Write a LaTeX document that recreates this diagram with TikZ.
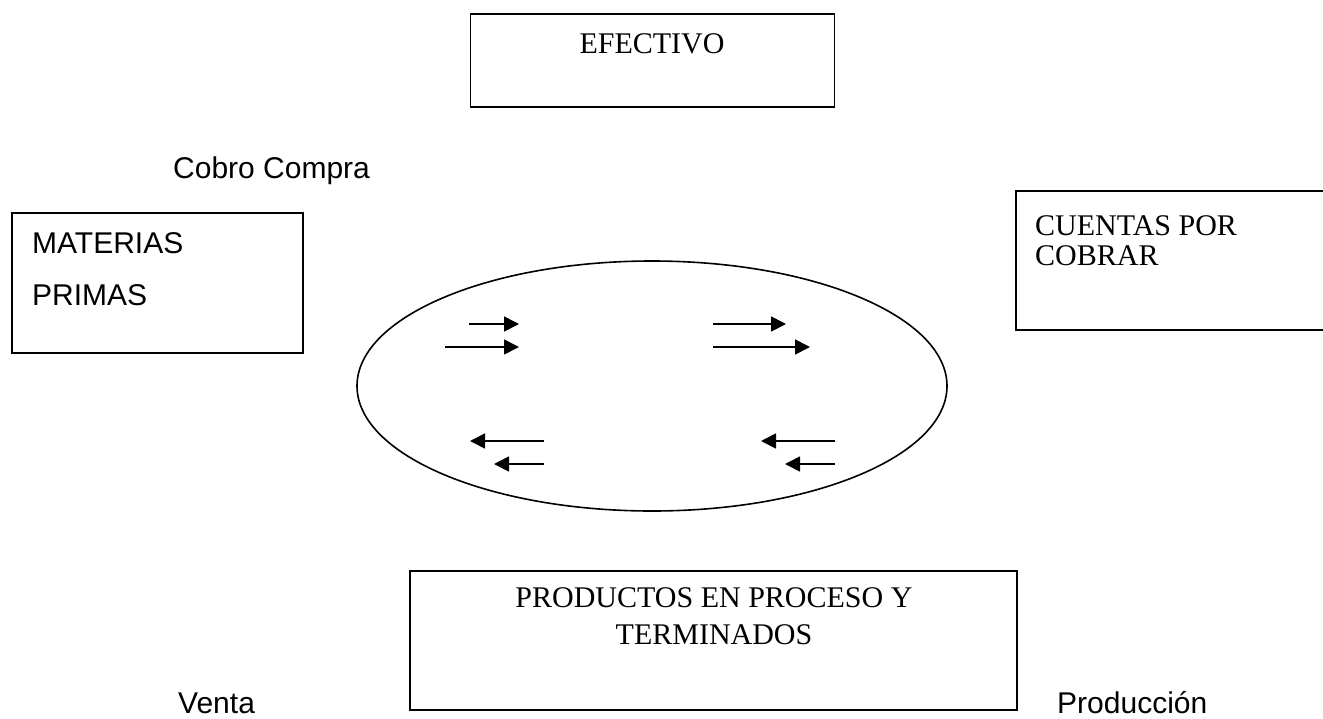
\documentclass[tikz,border=0pt]{standalone}
\usepackage{fontspec}
\setmainfont{Liberation Serif}
\newfontfamily\arialf{Liberation Sans}
\usetikzlibrary{arrows.meta,shapes.geometric}
\tikzset{
  boxshape/.style={draw, line width=1.6pt, rectangle, inner sep=0pt},
  serift/.style={font=\fontsize{30}{34}\selectfont, inner sep=0pt},
  sanst/.style={font=\arialf\fontsize{30}{34}\selectfont, inner sep=0pt},
  flow/.style={line width=1.7pt, -{Triangle[length=15pt,width=15pt]}},
}
\begin{document}
\begin{tikzpicture}[x=1pt,y=-1pt]
\useasboundingbox (0,0) rectangle (1323,718);
\clip (0,0) rectangle (1323,718);
\fill[white] (0,0) rectangle (1323,718);
% boxes
\node[boxshape, minimum width=364pt, minimum height=93pt] (efe) at (652.5,60.5) {};
\node[serift, anchor=base] (efet) at (652,53) {EFECTIVO};
\node[boxshape, minimum width=291pt, minimum height=140pt] (mat) at (157.5,283) {};
\node[sanst, anchor=base west] (mat1) at (32,253) {MATERIAS};
\node[sanst, anchor=base west] (mat2) at (32,305) {PRIMAS};
\node[boxshape, minimum width=330pt, minimum height=139pt] (cxc) at (1181,260.5) {};
\node[serift, anchor=base west] (cxc1) at (1035,235) {CUENTAS POR};
\node[serift, anchor=base west] (cxc2) at (1035,265) {COBRAR};
\node[boxshape, minimum width=607pt, minimum height=139pt] (prod) at (713.5,640.5) {};
\node[serift, anchor=base] (prod1) at (714,607) {PRODUCTOS EN PROCESO Y};
\node[serift, anchor=base] (prod2) at (714,644) {TERMINADOS};
% ellipse
\node[draw, line width=1.6pt, ellipse, minimum width=590pt, minimum height=250pt, inner sep=0pt] (ell) at (652,386) {};
% free labels
\node[sanst, anchor=base west] (cc) at (173,178) {Cobro Compra};
\node[sanst, anchor=base west] (ven) at (178,713) {Venta};
\node[sanst, anchor=base west] (pro) at (1057,713) {Producción};
% arrows
\coordinate (a1s) at (469,324); \coordinate (a1e) at (519,324);
\coordinate (a2s) at (445,347); \coordinate (a2e) at (519,347);
\coordinate (a3s) at (713,324); \coordinate (a3e) at (786,324);
\coordinate (a4s) at (713,347); \coordinate (a4e) at (810,347);
\coordinate (a5s) at (544,441); \coordinate (a5e) at (470,441);
\coordinate (a6s) at (544,464); \coordinate (a6e) at (494,464);
\coordinate (a7s) at (835,441); \coordinate (a7e) at (761,441);
\coordinate (a8s) at (835,464); \coordinate (a8e) at (785,464);
\draw[flow] (a1s) -- (a1e);
\draw[flow] (a2s) -- (a2e);
\draw[flow] (a3s) -- (a3e);
\draw[flow] (a4s) -- (a4e);
\draw[flow] (a5s) -- (a5e);
\draw[flow] (a6s) -- (a6e);
\draw[flow] (a7s) -- (a7e);
\draw[flow] (a8s) -- (a8e);
\end{tikzpicture}
\end{document}
